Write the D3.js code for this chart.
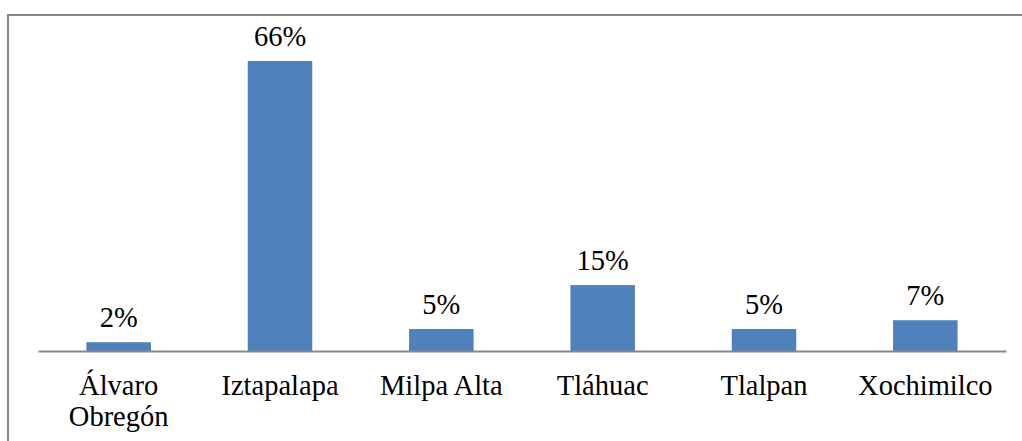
<!DOCTYPE html>
<html><head><meta charset="utf-8">
<script src="https://cdn.jsdelivr.net/npm/d3@7"></script>
<style>body{margin:0;background:#fff}svg{display:block}</style>
</head><body>
<script>
const categories = ["Álvaro\nObregón", "Iztapalapa", "Milpa Alta", "Tláhuac", "Tlalpan", "Xochimilco"];
const values = [2, 66, 5, 15, 5, 7];
const valueLabels = ["2%", "66%", "5%", "15%", "5%", "7%"];

const W = 1022, H = 441;
const svg = d3.select("body").append("svg").attr("width", W).attr("height", H);

// outer border (top and left visible)
svg.append("rect").attr("x", 8).attr("y", 15).attr("width", 1030).attr("height", 450)
  .attr("fill", "none").attr("stroke", "#878787").attr("stroke-width", 2);

const x = d3.scaleBand().domain(categories).range([38, 1006]).padding(0);
const y = d3.scaleLinear().domain([0, 70]).range([351, 43.4]);
const bw = x.bandwidth() * 0.4;

const font = "'Liberation Serif', 'Times New Roman', serif";
const fs = 28.5;

svg.selectAll("rect.bar").data(values).join("rect").attr("class", "bar")
  .attr("x", (d, i) => x(categories[i]) + (x.bandwidth() - bw) / 2)
  .attr("y", d => y(d))
  .attr("width", bw)
  .attr("height", d => y(0) - y(d))
  .attr("fill", "#4F81BD");

svg.selectAll("text.val").data(values).join("text").attr("class", "val")
  .attr("x", (d, i) => x(categories[i]) + x.bandwidth() / 2)
  .attr("y", d => y(d) - 15)
  .attr("text-anchor", "middle")
  .attr("font-family", font).attr("font-size", fs).attr("fill", "#000")
  .text((d, i) => valueLabels[i]);

// baseline axis
const axis = d3.axisBottom(x).tickSize(0).tickFormat("");
const g = svg.append("g").attr("transform", `translate(0,${y(0)})`).call(axis);
g.select(".domain").attr("stroke", "#888").attr("stroke-width", 2);

categories.forEach(c => {
  const t = svg.append("text")
    .attr("x", x(c) + x.bandwidth() / 2)
    .attr("y", 395)
    .attr("text-anchor", "middle")
    .attr("font-family", font).attr("font-size", fs).attr("fill", "#000");
  c.split("\n").forEach((line, j) => {
    t.append("tspan").attr("x", x(c) + x.bandwidth() / 2).attr("dy", j === 0 ? 0 : 30.5).text(line);
  });
});
</script>
</body></html>
